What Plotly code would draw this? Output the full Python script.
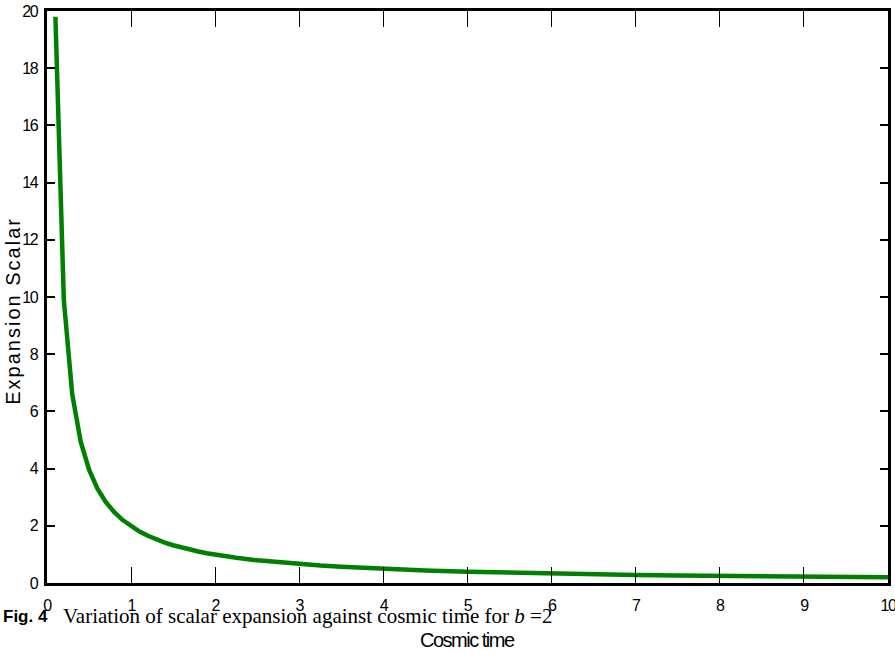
import plotly.graph_objects as go

# cosmic time samples and the expansion scalar read at each
cosmic_time = [0.1, 0.2, 0.3, 0.4, 0.5, 0.6, 0.7, 0.8, 0.9, 1.0,
               1.1, 1.2, 1.3, 1.4, 1.5, 1.6, 1.7, 1.8, 1.9, 2.0,
               2.25, 2.5, 2.75, 3.0, 3.25, 3.5, 3.75, 4.0,
               4.5, 5.0, 5.5, 6.0, 6.5, 7.0, 7.5, 8.0, 8.5, 9.0, 9.5, 10.0]
expansion = [19.8, 9.9, 6.6, 4.95, 3.96, 3.3, 2.829, 2.475, 2.2, 1.98,
             1.8, 1.65, 1.523, 1.414, 1.32, 1.238, 1.165, 1.1, 1.042, 0.99,
             0.88, 0.792, 0.72, 0.66, 0.609, 0.566, 0.528, 0.495,
             0.44, 0.396, 0.36, 0.33, 0.305, 0.283, 0.264, 0.248, 0.233, 0.22, 0.208, 0.198]

x_ticks = [0, 1, 2, 3, 4, 5, 6, 7, 8, 9, 10]
y_ticks = [0, 2, 4, 6, 8, 10, 12, 14, 16, 18, 20]

sans = "Liberation Sans, Arial, Helvetica, sans-serif"
serif = "Liberation Serif, Times New Roman, serif"


def narrow(labels):
    # tighten the letter spacing to mimic a condensed face
    return ["<span style='letter-spacing:-1.5px'>%s</span>" % v for v in labels]


fig = go.Figure()
fig.add_trace(go.Scatter(x=cosmic_time, y=expansion, mode="lines",
                         line=dict(color="#008000", width=4.5), showlegend=False))

fig.update_layout(
    width=895, height=655,
    margin=dict(l=47, r=7, t=11, b=72, autoexpand=False),
    paper_bgcolor="white", plot_bgcolor="white",
    xaxis=dict(range=[0, 10], tickvals=x_ticks, ticktext=narrow(x_ticks),
               ticks="inside", ticklen=16, automargin=False,
               ticklabeloverflow="allow",
               tickwidth=1.3, tickcolor="black", showline=True, linewidth=2.5,
               linecolor="black", mirror="ticks", showgrid=False, zeroline=False,
               tickfont=dict(family=sans, size=16, color="black"),
               ticklabelstandoff=6),
    yaxis=dict(range=[0, 20], tickvals=y_ticks, ticktext=narrow(y_ticks),
               ticks="inside", ticklen=8, automargin=False,
               ticklabeloverflow="allow",
               tickwidth=2, tickcolor="black", showline=True, linewidth=2.5,
               linecolor="black", mirror="ticks", showgrid=False, zeroline=False,
               tickfont=dict(family=sans, size=16, color="black"),
               ticklabelstandoff=4),
)

fig.add_annotation(text="<span style='letter-spacing:2px'>Expansion Scalar</span>",
                   xref="paper", yref="paper",
                   x=-47 / 841, y=0.476, xanchor="left", yanchor="middle",
                   textangle=-90, showarrow=False,
                   font=dict(family=sans, size=20, color="black"))
fig.add_annotation(text="<span style='letter-spacing:-1.5px'>Cosmic time</span>",
                   xref="paper", yref="paper",
                   x=0.5, y=-57 / 572, xanchor="center", yanchor="middle",
                   showarrow=False,
                   font=dict(family=sans, size=20, color="black"))
fig.add_annotation(text="<b>Fig. 4</b>", xref="paper", yref="paper",
                   x=-46 / 841, y=-33 / 572, xanchor="left", yanchor="middle",
                   showarrow=False,
                   font=dict(family=sans, size=17, color="black"))
fig.add_annotation(text="Variation of scalar expansion against cosmic time for <i>b</i> =2",
                   xref="paper", yref="paper",
                   x=14 / 841, y=-33 / 572, xanchor="left", yanchor="middle",
                   showarrow=False,
                   font=dict(family=serif, size=21, color="black"))

fig.write_html("out.html")
